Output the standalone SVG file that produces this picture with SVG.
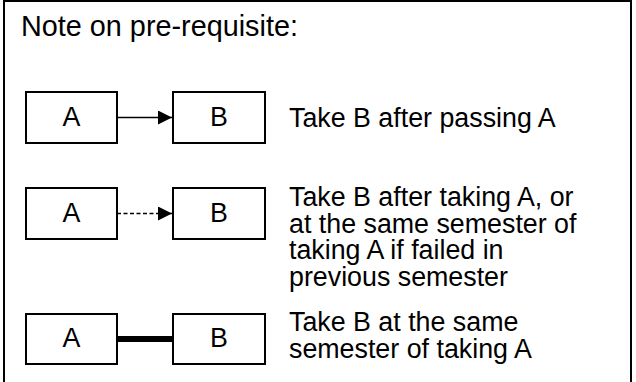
<svg xmlns="http://www.w3.org/2000/svg" width="636" height="382" viewBox="0 0 636 382">
<style>
.t{font-family:"Liberation Sans",Arial,sans-serif;font-size:26.8px;fill:#000}
.h{font-size:28.8px}
.c{text-anchor:middle}
.box{fill:#fff;stroke:#000;stroke-width:2}
</style>
<defs>
<marker id="ah" markerWidth="14" markerHeight="14" refX="14" refY="7" orient="auto" markerUnits="userSpaceOnUse">
<path d="M0,0 L14,7 L0,14 Z" fill="#000"/>
</marker>
</defs>
<rect width="636" height="382" fill="#fff"/>
<rect id="frame" x="4" y="1" width="627" height="400" fill="none" stroke="#000" stroke-width="2"/>
<text class="t h" x="21" y="36">Note on pre-requisite:</text>
<g id="connectors">
<line x1="117" y1="117.5" x2="172" y2="117.5" stroke="#000" stroke-width="1.3" marker-end="url(#ah)"/>
<line x1="117" y1="213.5" x2="172" y2="213.5" stroke="#000" stroke-width="1.3" stroke-dasharray="4,2.5" marker-end="url(#ah)"/>
<line x1="117" y1="339" x2="173" y2="339" stroke="#000" stroke-width="6"/>
</g>
<g id="a1"><rect class="box" x="26" y="92" width="91" height="51"/><text class="t c" x="71.5" y="126">A</text></g>
<g id="b1"><rect class="box" x="173" y="92" width="92" height="51"/><text class="t c" x="219" y="126">B</text></g>
<g id="a2"><rect class="box" x="26" y="188" width="91" height="51"/><text class="t c" x="71.5" y="222">A</text></g>
<g id="b2"><rect class="box" x="173" y="188" width="92" height="51"/><text class="t c" x="219" y="222">B</text></g>
<g id="a3"><rect class="box" x="26" y="314" width="91" height="50"/><text class="t c" x="71.5" y="347">A</text></g>
<g id="b3"><rect class="box" x="173" y="314" width="92" height="50"/><text class="t c" x="219" y="347">B</text></g>
<text class="t" x="289" y="127">Take B after passing A</text>
<text class="t" x="289" y="206">Take B after taking A, or</text>
<text class="t" x="289" y="232.5">at the same semester of</text>
<text class="t" x="289" y="259">taking A if failed in</text>
<text class="t" x="289" y="285.5">previous semester</text>
<text class="t" x="289" y="331">Take B at the same</text>
<text class="t" x="289" y="358">semester of taking A</text>
</svg>
